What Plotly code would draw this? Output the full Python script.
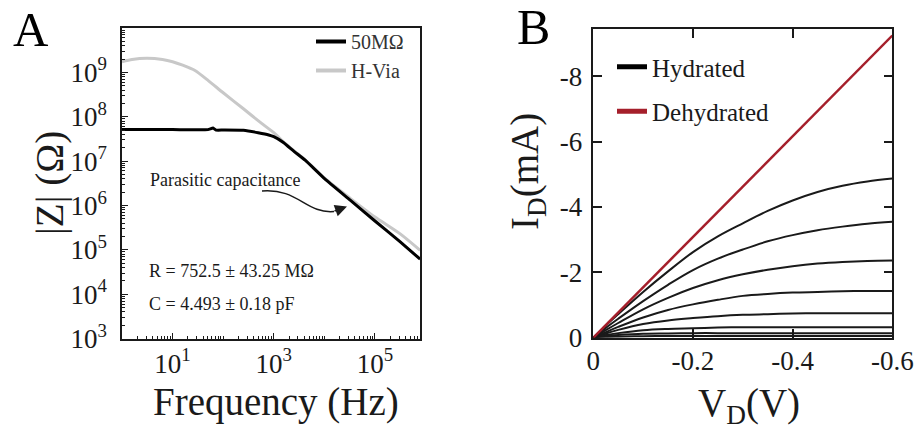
import plotly.graph_objects as go

# ---------------- Panel A data (impedance spectra) ----------------
freq_50m = [1, 10, 50, 63, 72, 100, 251, 490, 794, 1000, 1550, 2510, 4170, 10200, 32400, 100000, 316000, 780000]
z_50m = [5.13e7, 5.13e7, 5.13e7, 5.56e7, 5.01e7, 5.01e7, 4.95e7, 4.37e7, 3.89e7, 3.55e7,
         2.63e7, 1.66e7, 1.05e7, 3.98e6, 1.32e6, 4.47e5, 1.51e5, 6.17e4]

freq_hvia = [1, 1.58, 3.09, 6.31, 10, 15.8, 27.7, 50.1, 100, 251, 575, 1000, 1550, 2510,
             4170, 10200, 32400, 100000, 316000, 780000]
z_hvia = [1.74e9, 1.95e9, 2.07e9, 1.95e9, 1.74e9, 1.45e9, 1.10e9, 6.61e8, 3.47e8, 1.51e8,
          7.08e7, 4.37e7, 2.70e7, 1.70e7, 1.07e7, 4.07e6, 1.45e6, 5.50e5, 2.29e5, 9.77e4]

a_xtick_vals = [10, 1000, 100000]
a_xtick_text = ["10<sup>1</sup>", "10<sup>3</sup>", "10<sup>5</sup>"]
a_ytick_vals = [1e3, 1e4, 1e5, 1e6, 1e7, 1e8, 1e9]
a_ytick_text = ["10<sup>3</sup>", "10<sup>4</sup>", "10<sup>5</sup>", "10<sup>6</sup>",
                "10<sup>7</sup>", "10<sup>8</sup>", "10<sup>9</sup>"]

# ---------------- Panel B data (output curves) ----------------
vd = [0, -0.025, -0.05, -0.1, -0.15, -0.2, -0.25, -0.3, -0.35, -0.4, -0.45, -0.5, -0.55, -0.6]
id_hydrated = [
    [0, -0.37, -0.72, -1.40, -2.03, -2.62, -3.10, -3.50, -3.88, -4.20, -4.46, -4.65, -4.78, -4.87],
    [0, -0.30, -0.58, -1.12, -1.62, -2.07, -2.42, -2.70, -2.95, -3.14, -3.29, -3.40, -3.49, -3.55],
    [0, -0.23, -0.45, -0.87, -1.22, -1.52, -1.76, -1.94, -2.08, -2.19, -2.27, -2.32, -2.35, -2.36],
    [0, -0.17, -0.33, -0.62, -0.85, -1.02, -1.16, -1.28, -1.34, -1.38, -1.40, -1.42, -1.43, -1.43],
    [0, -0.13, -0.24, -0.42, -0.53, -0.60, -0.66, -0.70, -0.72, -0.74, -0.75, -0.75, -0.75, -0.75],
    [0, -0.08, -0.14, -0.23, -0.27, -0.29, -0.31, -0.32, -0.32, -0.32, -0.32, -0.32, -0.32, -0.32],
    [0, -0.05, -0.08, -0.12, -0.13, -0.14, -0.14, -0.14, -0.14, -0.14, -0.14, -0.14, -0.14, -0.14],
    [0, -0.02, -0.03, -0.045, -0.05, -0.05, -0.05, -0.05, -0.05, -0.05, -0.05, -0.05, -0.05, -0.05],
]
vd_dehydrated = [0, -0.1, -0.2, -0.3, -0.4, -0.5, -0.6]
id_dehydrated = [0, -1.54, -3.08, -4.62, -6.17, -7.71, -9.25]

b_xtick_vals = [0, -0.2, -0.4, -0.6]
b_xtick_text = ["0", "-0.2", "-0.4", "-0.6"]
b_ytick_vals = [0, -2, -4, -6, -8]
b_ytick_text = ["0", "-2", "-4", "-6", "-8"]

# ---------------- figure ----------------
W, H = 916, 431
FONT = "Liberation Serif"
INK = "#1a1a1a"
GRAY = "#c8c8c8"
RED = "#a51f2b"


def px(x):
    return x / W


def py(y):
    return 1 - y / H


fig = go.Figure()

# Panel A traces
fig.add_trace(go.Scatter(x=freq_hvia, y=z_hvia, mode="lines",
                         line=dict(color=GRAY, width=3, shape="spline", smoothing=0.6),
                         xaxis="x", yaxis="y", showlegend=False))
fig.add_trace(go.Scatter(x=freq_50m, y=z_50m, mode="lines",
                         line=dict(color="#000000", width=3, shape="spline", smoothing=0.4),
                         xaxis="x", yaxis="y", showlegend=False))
# legend entries panel A
fig.add_trace(go.Scatter(x=[None], y=[None], mode="lines", name="50MΩ",
                         line=dict(color="#000000", width=4), xaxis="x", yaxis="y",
                         legend="legend"))
fig.add_trace(go.Scatter(x=[None], y=[None], mode="lines", name="H-Via",
                         line=dict(color=GRAY, width=4), xaxis="x", yaxis="y",
                         legend="legend"))

# Panel B traces
for curve in id_hydrated:
    fig.add_trace(go.Scatter(x=vd, y=curve, mode="lines", line=dict(color=INK, width=2, shape="spline"),
                             xaxis="x2", yaxis="y2", showlegend=False))
fig.add_trace(go.Scatter(x=vd_dehydrated, y=id_dehydrated, mode="lines", line=dict(color=RED, width=2.5),
                         xaxis="x2", yaxis="y2", showlegend=False))
fig.add_trace(go.Scatter(x=[None], y=[None], mode="lines", name="Hydrated",
                         line=dict(color="#000000", width=5), xaxis="x2", yaxis="y2",
                         legend="legend2", legendgroup="b1"))
fig.add_trace(go.Scatter(x=[None], y=[None], mode="lines", name="Dehydrated",
                         line=dict(color=RED, width=5), xaxis="x2", yaxis="y2",
                         legend="legend2", legendgroup="b2"))

axis_common = dict(showline=True, linecolor=INK, linewidth=1.5, showgrid=False, zeroline=False,
                   automargin=False,
                   ticks="inside", tickcolor=INK, tickfont=dict(family=FONT, size=27, color=INK))

fig.update_layout(
    template="none",
    width=W, height=H,
    margin=dict(l=0, r=0, t=0, b=0, autoexpand=False),
    paper_bgcolor="white", plot_bgcolor="white",
    font=dict(family=FONT, color=INK),
    xaxis=dict(axis_common, type="log", domain=[px(122), px(420)], range=[0, 5.89],
               tickmode="array", tickvals=a_xtick_vals, ticktext=a_xtick_text,
               ticklen=6, tickwidth=1.2, mirror=True, anchor="y", ticklabelstandoff=0,
               minor=dict(ticks="inside", ticklen=3, tickcolor=INK, dtick="D1", tickwidth=1)),
    yaxis=dict(axis_common, type="log", domain=[py(338.6), py(28)], range=[3, 10],
               tickmode="array", tickvals=a_ytick_vals, ticktext=a_ytick_text,
               ticklen=6, tickwidth=1.2, mirror=True, anchor="x", ticklabelstandoff=8,
               minor=dict(ticks="inside", ticklen=3, tickcolor=INK, dtick="D1", tickwidth=1)),
    xaxis2=dict(axis_common, domain=[px(593.3), px(892.3)], range=[0, -0.6],
                tickmode="array", tickvals=b_xtick_vals, ticktext=b_xtick_text,
                ticklen=9, tickwidth=1.5, mirror="ticks", anchor="y2", ticklabelstandoff=-2),
    yaxis2=dict(axis_common, domain=[py(337.7), py(29.3)], range=[0, -9.44],
                tickmode="array", tickvals=b_ytick_vals, ticktext=b_ytick_text,
                ticklen=9, tickwidth=1.5, mirror="ticks", anchor="x2", ticklabelstandoff=4),
    legend=dict(x=px(311), y=py(22), xanchor="left", yanchor="top", bgcolor="rgba(0,0,0,0)",
                font=dict(family=FONT, size=20, color="#333333"), tracegroupgap=0, itemwidth=30),
    legend2=dict(x=px(612), y=py(44), xanchor="left", yanchor="top", bgcolor="rgba(0,0,0,0)",
                 font=dict(family=FONT, size=25, color=INK), tracegroupgap=9, itemwidth=30),
)

# Axis titles
title_font = dict(family=FONT, size=39, color=INK)
fig.add_annotation(x=px(276), y=py(402), xref="paper", yref="paper", text="Frequency (Hz)",
                   showarrow=False, xanchor="center", yanchor="middle", font=title_font)
fig.add_annotation(x=px(50), y=py(183), xref="paper", yref="paper", text="|Z| (Ω)", textangle=-90,
                   showarrow=False, xanchor="center", yanchor="middle", font=title_font)
fig.add_annotation(x=px(749), y=py(405), xref="paper", yref="paper", text="V<sub>D</sub>(V)",
                   showarrow=False, xanchor="center", yanchor="middle", font=title_font)
fig.add_annotation(x=px(528), y=py(172), xref="paper", yref="paper", text="I<sub>D</sub>(mA)",
                   textangle=-90, showarrow=False, xanchor="center", yanchor="middle", font=title_font)

# Arrow (curved stem + head) pointing to the parasitic capacitance region
fig.add_shape(type="path", xref="paper", yref="paper",
              path=(f"M {px(262)},{py(191)} C {px(298)},{py(188)} {px(306)},{py(214)} "
                    f"{px(334)},{py(211.5)}"),
              line=dict(color=INK, width=1.5))
fig.add_annotation(x=px(347), y=py(206.5), xref="paper", yref="paper", text="",
                   showarrow=True, ax=-14, ay=5, axref="pixel", ayref="pixel",
                   arrowhead=2, arrowsize=1.6, arrowwidth=1.5, arrowcolor=INK)

ann_font = dict(family=FONT, size=18, color=INK)
fig.add_annotation(x=px(148), y=py(180), xref="paper", yref="paper", text="Parasitic capacitance",
                   showarrow=False, xanchor="left", yanchor="middle", font=ann_font)
fig.add_annotation(x=px(147), y=py(271), xref="paper", yref="paper", text="R = 752.5 ± 43.25 MΩ",
                   showarrow=False, xanchor="left", yanchor="middle", font=ann_font)
fig.add_annotation(x=px(147), y=py(304), xref="paper", yref="paper", text="C = 4.493 ± 0.18 pF",
                   showarrow=False, xanchor="left", yanchor="middle", font=ann_font)

# Panel letters
fig.add_annotation(x=px(31), y=py(30), xref="paper", yref="paper", text="A", showarrow=False,
                   xanchor="center", yanchor="middle", font=dict(family=FONT, size=49, color="#000000"))
fig.add_annotation(x=px(533), y=py(27.5), xref="paper", yref="paper", text="B", showarrow=False,
                   xanchor="center", yanchor="middle", font=dict(family=FONT, size=50, color="#000000"))

fig.write_html(
    "out.html",
    config={"displayModeBar": False},
    post_script=("document.documentElement.style.margin='0';document.body.style.margin='0';"
                 "document.body.style.overflow='hidden';document.documentElement.style.overflow='hidden';"),
)
